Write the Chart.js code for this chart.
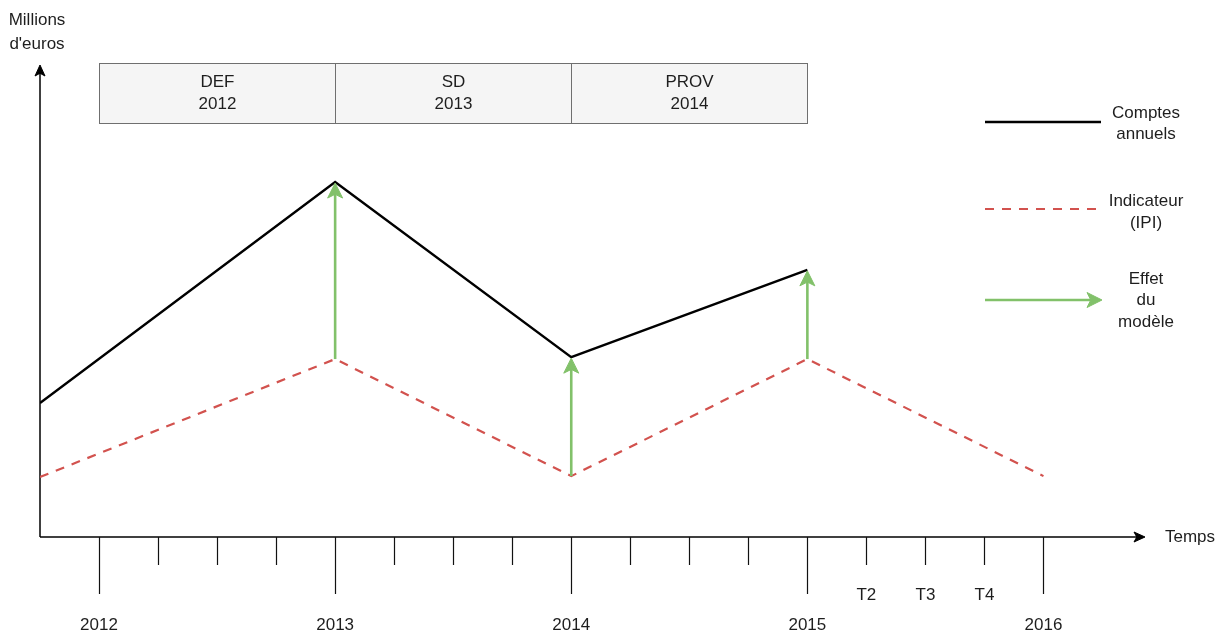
<!DOCTYPE html>
<html>
<head>
<meta charset="utf-8">
<script src="https://cdn.jsdelivr.net/npm/chart.js@4"></script>
<style>
  body { margin: 0; background: #fff; }
  canvas { display: block; }
</style>
</head>
<body>
<canvas id="chart" width="1218" height="633"></canvas>
<script>
// Comptes annuels (black line)
const compteYears = [2011.75, 2013, 2014, 2015];
const compteValues = [28.4, 75.2, 38.1, 56.6];

// Indicateur IPI (red dashed)
const ipiYears = [2011.75, 2013, 2014, 2015, 2016];
const ipiValues = [12.7, 37.7, 12.9, 37.7, 12.9];

// Effet du modele (green arrows)
const effetYears = [2013, 2014, 2015];
const effetFrom = [37.7, 12.9, 37.7];
const effetTo = [75.2, 38.1, 56.6];

// time axis
const yearTicks = [2012, 2013, 2014, 2015, 2016];
const yearLabels = ["2012", "2013", "2014", "2015", "2016"];
const quarterTicks = [2015.25, 2015.5, 2015.75];
const quarterLabels = ["T2", "T3", "T4"];

// header boxes
const periodYears = [2012, 2013, 2014];
const periodNames = ["DEF", "SD", "PROV"];
const periodLabels = ["2012", "2013", "2014"];

const FONT = '17px "Liberation Sans", Arial, sans-serif';
const BLACK = "#000";
const RED = "#d2524e";
const GREEN = "#82c16a";

function toPoints(xs, ys) {
    return xs.map((x, i) => ({ x: x, y: ys[i] }));
}

function arrowHead(ctx, tx, ty, dx, dy, color, len, half) {
    // draw.io "classic" arrow
    let notch = len * 0.25;
    let px = -dy, py = dx;
    ctx.save();
    ctx.fillStyle = color;
    ctx.strokeStyle = color;
    ctx.lineWidth = 1;
    ctx.lineJoin = "miter";
    ctx.beginPath();
    ctx.moveTo(tx, ty);
    ctx.lineTo(tx - dx * len + px * half, ty - dy * len + py * half);
    ctx.lineTo(tx - dx * (len - notch), ty - dy * (len - notch));
    ctx.lineTo(tx - dx * len - px * half, ty - dy * len - py * half);
    ctx.closePath();
    ctx.fill();
    ctx.stroke();
    ctx.restore();
}

function line(ctx, x1, y1, x2, y2, color, width, dash) {
    ctx.save();
    ctx.strokeStyle = color;
    ctx.lineWidth = width;
    ctx.setLineDash(dash || []);
    ctx.beginPath();
    ctx.moveTo(x1, y1);
    ctx.lineTo(x2, y2);
    ctx.stroke();
    ctx.restore();
}

function text(ctx, str, x, y) {
    ctx.save();
    ctx.font = FONT;
    ctx.fillStyle = "#1e1e1e";
    ctx.textAlign = "center";
    ctx.textBaseline = "middle";
    ctx.fillText(str, x, y);
    ctx.restore();
}

const diagramPlugin = {
    id: "diagram",
    beforeDatasetsDraw(chart) {
        let ctx = chart.ctx;
        let xs = chart.scales.x, ys = chart.scales.y;
        let area = chart.chartArea;
        let ox = xs.getPixelForValue(xs.min);
        let oy = ys.getPixelForValue(ys.min);

        // axes
        line(ctx, ox, oy, ox, area.top + 6, BLACK, 1.5);
        arrowHead(ctx, ox, area.top, 0, -1, BLACK, 11, 5);
        line(ctx, ox, oy, area.right - 6, oy, BLACK, 1.5);
        arrowHead(ctx, area.right, oy, 1, 0, BLACK, 11, 5);
        text(ctx, "Temps", area.right + 45, oy);
        text(ctx, "Millions", 37, 20);
        text(ctx, "d'euros", 37, 44);

        // quarter ticks
        for (let q = yearTicks[0]; q <= yearTicks[yearTicks.length - 1] + 0.001; q += 0.25) {
            let px = Math.round(xs.getPixelForValue(q)) + 0.5;
            let major = Math.abs(q - Math.round(q)) < 0.001;
            line(ctx, px, oy, px, oy + (major ? 57 : 28), "#111", 1.2);
        }
        yearTicks.forEach((y, i) => text(ctx, yearLabels[i], xs.getPixelForValue(y), oy + 88));
        quarterTicks.forEach((q, i) => text(ctx, quarterLabels[i], xs.getPixelForValue(q), oy + 58));

        // header boxes
        let top = area.top - 2, h = 60;
        periodYears.forEach((y, i) => {
            let x1 = Math.round(xs.getPixelForValue(y)) + 0.5;
            let x2 = Math.round(xs.getPixelForValue(y + 1)) + 0.5;
            ctx.save();
            ctx.fillStyle = "#f5f5f5";
            ctx.strokeStyle = "#6f6f6f";
            ctx.lineWidth = 1;
            ctx.fillRect(x1, top, x2 - x1, h);
            ctx.strokeRect(x1, top + 0.5, x2 - x1, h);
            ctx.restore();
            text(ctx, periodNames[i], (x1 + x2) / 2, top + 19);
            text(ctx, periodLabels[i], (x1 + x2) / 2, top + 41);
        });
    },
    afterDatasetsDraw(chart) {
        let ctx = chart.ctx;
        let xs = chart.scales.x, ys = chart.scales.y;

        // model effect arrows
        effetYears.forEach((y, i) => {
            let px = xs.getPixelForValue(y);
            let y1 = ys.getPixelForValue(effetFrom[i]);
            let y2 = ys.getPixelForValue(effetTo[i]);
            line(ctx, px, y1, px, y2 + 10, GREEN, 2.6);
            arrowHead(ctx, px, y2 + 1, 0, -1, GREEN, 15, 7.5);
        });

        // legend
        line(ctx, 985, 122, 1101, 122, BLACK, 2.4);
        text(ctx, "Comptes", 1146, 113);
        text(ctx, "annuels", 1146, 134);

        line(ctx, 985, 209, 1101, 209, RED, 2.2, [9, 8]);
        text(ctx, "Indicateur", 1146, 201);
        text(ctx, "(IPI)", 1146, 223);

        line(ctx, 985, 300, 1092, 300, GREEN, 2.6);
        arrowHead(ctx, 1102, 300, 1, 0, GREEN, 15, 7.5);
        text(ctx, "Effet", 1146, 279);
        text(ctx, "du", 1146, 300);
        text(ctx, "modèle", 1146, 322);
    }
};

new Chart(document.getElementById("chart"), {
    type: "line",
    data: {
        datasets: [
            {
                label: "Comptes annuels",
                data: toPoints(compteYears, compteValues),
                borderColor: BLACK,
                borderWidth: 2.4,
                pointRadius: 0,
                tension: 0
            },
            {
                label: "Indicateur (IPI)",
                data: toPoints(ipiYears, ipiValues),
                borderColor: RED,
                borderWidth: 2.2,
                borderDash: [9, 8],
                pointRadius: 0,
                tension: 0
            }
        ]
    },
    plugins: [diagramPlugin],
    options: {
        responsive: false,
        animation: false,
        layout: { padding: { left: 40, right: 73, top: 65, bottom: 96 } },
        scales: {
            x: { type: "linear", min: 2011.75, max: 2016.43, display: false },
            y: { type: "linear", min: 0, max: 100, display: false }
        },
        plugins: {
            legend: { display: false },
            tooltip: { enabled: false }
        }
    }
});
</script>
</body>
</html>
